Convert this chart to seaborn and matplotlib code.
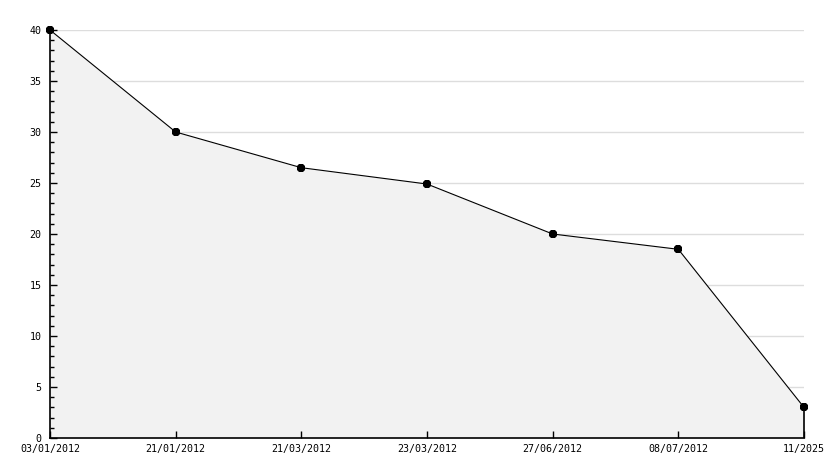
import numpy as np
import pandas as pd
import seaborn as sns
import matplotlib.pyplot as plt
from matplotlib.ticker import MultipleLocator

dates = ["03/01/2012", "21/01/2012", "21/03/2012", "23/03/2012",
         "27/06/2012", "08/07/2012", "11/2025"]
values = [40, 30, 26.5, 24.9, 20, 18.5, 3]

df = pd.DataFrame({"pos": np.arange(len(dates)), "value": values})

sns.set_style("white")
plt.rcParams['font.family'] = ['DejaVu Sans Mono']

fig = plt.figure(figsize=(8.34, 4.68), dpi=100)
ax = fig.add_axes([50 / 834, 30 / 468, 754 / 834, 408 / 468])

# gridlines under the grey fill
ax.hlines(np.arange(5, 41, 5), 0, len(dates) - 1, color="#dddddd", lw=1, zorder=0.5)
ax.fill_between(df["pos"], df["value"], 0, color="#f2f2f2", lw=0, zorder=1)
sns.lineplot(data=df, x="pos", y="value", ax=ax, color="black", lw=0.8,
             marker="8", markersize=6.5, markeredgewidth=0, zorder=3, clip_on=False)
ax.vlines(df["pos"].iloc[-1], 0, values[-1], color="black", lw=1.2, zorder=3, clip_on=False)

ax.set_xlim(0, len(dates) - 1)
ax.set_ylim(0, 40)
ax.set_xticks(df["pos"])
ax.set_xticklabels(dates)
ax.yaxis.set_major_locator(MultipleLocator(5))
ax.yaxis.set_minor_locator(MultipleLocator(1))
ax.set_axisbelow(False)

for s in ["top", "right"]:
    ax.spines[s].set_visible(False)
for s in ["left", "bottom"]:
    ax.spines[s].set_color("black")
    ax.spines[s].set_linewidth(1.2)
    ax.spines[s].set_zorder(4)

ax.tick_params(axis="y", which="major", direction="in", length=5, width=1,
               labelsize=7.2, pad=6, left=True, color="black", labelcolor="black")
ax.tick_params(axis="y", which="minor", direction="in", length=3, width=1,
               left=True, color="black")
ax.tick_params(axis="x", which="major", direction="in", length=5, width=1,
               labelsize=7.2, pad=4, bottom=True, color="black", labelcolor="black")
ax.set_xlabel("")
ax.set_ylabel("")

fig.savefig("out.png", dpi=100)
